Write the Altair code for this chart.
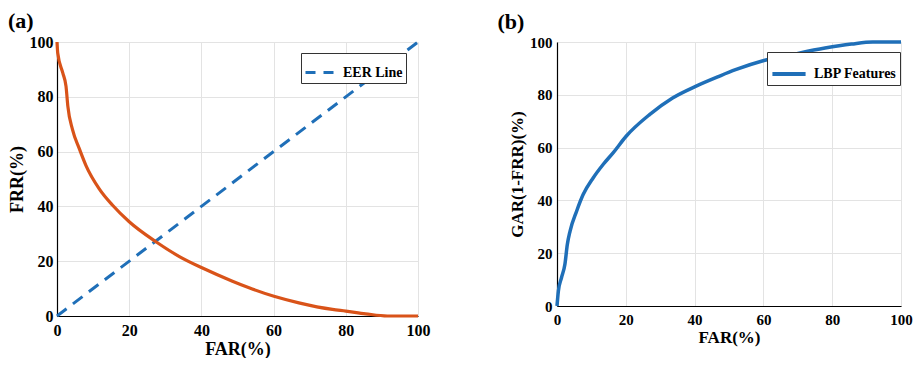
import altair as alt
import pandas as pd

# Panel (a): FRR vs FAR
far_a = [0, 0.2, 1.6, 2.5, 3.0, 4.3, 6.2, 8.0, 11.7, 15.4, 20.0, 27.4, 33.9, 40.3,
         48.6, 53.2, 60.1, 67.0, 76.3, 80.0, 85.5, 91.5, 100]
frr_a = [100, 96, 88.7, 83.8, 76.6, 68, 61, 55, 46.4, 40.4, 34.4, 27.1, 21.7, 17.5,
         12.7, 10.3, 7.2, 4.8, 2.4, 1.8, 0.8, 0, 0]
eer_x = [0, 100]
eer_y = [0, 100]

# Panel (b): GAR vs FAR
far_b = [0, 0.4, 1.3, 2.3, 3.0, 3.8, 5.7, 7.6, 10.5, 13.4, 16.3, 20.1, 26.9, 33.6,
         40.3, 47.1, 51.9, 59.9, 68.2, 77.9, 85.6, 91.8, 100]
gar_b = [0, 5.7, 10.7, 15.8, 23.3, 28.4, 35.9, 42.2, 48.5, 53.6, 58, 64.3, 72.5, 78.8,
         83.2, 87, 89.5, 92.9, 95.2, 97.7, 99.2, 100, 100]

ticks = [0, 20, 40, 60, 80, 100]
FONT = "Liberation Serif, Times New Roman, serif"
ORANGE = "#D95319"
BLUE = "#1F6FB8"

df_frr = pd.DataFrame({"far": far_a, "val": frr_a})
df_eer = pd.DataFrame({"far": eer_x, "val": eer_y, "series": ["EER Line"] * 2})
df_gar = pd.DataFrame({"far": far_b, "val": gar_b, "series": ["LBP Features"] * len(far_b)})


def xaxis(fs, tfs, lp, tp):
    return alt.X("far:Q", scale=alt.Scale(domain=[0, 100], nice=False),
                 axis=alt.Axis(values=ticks, title="FAR(%)", labelFontSize=fs,
                               titleFontSize=tfs, labelPadding=lp, titlePadding=tp,
                               labelFont=FONT, titleFont=FONT,
                               labelFlush=False))


def yaxis(title, fs, tfs, lp, tp):
    return alt.Y("val:Q", scale=alt.Scale(domain=[0, 100], nice=False),
                 axis=alt.Axis(values=ticks, title=title, labelFontSize=fs,
                               titleFontSize=tfs, labelPadding=lp, titlePadding=tp,
                               labelFont=FONT, titleFont=FONT,
                               labelFlush=False))


frr_line = alt.Chart(df_frr).mark_line(color=ORANGE, strokeWidth=3.2, interpolate="monotone").encode(
    x=xaxis(16, 18, 6, 2),
    y=yaxis("FRR(%)", 16, 18, 4, 3),
)

eer_line = alt.Chart(df_eer).mark_line(strokeWidth=3, strokeDash=[12, 8]).encode(
    x="far:Q",
    y="val:Q",
    color=alt.Color("series:N", scale=alt.Scale(domain=["EER Line"], range=[BLUE]),
                    legend=alt.Legend(title=None, orient="none", legendX=244, legendY=11,
                                      symbolType="stroke", symbolDash=[10, 8],
                                      symbolStrokeWidth=3, symbolSize=900,
                                      labelFontSize=14, labelFont=FONT, labelFontWeight="bold",
                                      labelColor="black",
                                      strokeColor="#333333", fillColor="white",
                                      padding=3, labelOffset=6)),
)

chart_a = alt.layer(eer_line, frr_line).properties(
    width=361, height=274,
    title=alt.TitleParams("(a)", anchor="start", frame="bounds", fontSize=22,
                          font=FONT, fontWeight="bold", offset=1, dx=0),
)

gar_line = alt.Chart(df_gar).mark_line(strokeWidth=3.5, interpolate="monotone").encode(
    x=xaxis(15, 17, 6, 2),
    y=yaxis("GAR(1-FRR)(%)", 15, 17, 5, 3),
    color=alt.Color("series:N", scale=alt.Scale(domain=["LBP Features"], range=[BLUE]),
                    legend=alt.Legend(title=None, orient="none", legendX=210, legendY=10,
                                      symbolType="stroke", symbolStrokeWidth=4,
                                      symbolSize=1100,
                                      labelFontSize=14, labelFont=FONT, labelFontWeight="bold",
                                      labelColor="black",
                                      strokeColor="#333333", fillColor="white",
                                      padding=3, labelOffset=6)),
)

chart_b = gar_line.properties(
    width=344, height=264,
    title=alt.TitleParams("(b)", anchor="start", frame="bounds", fontSize=22,
                          font=FONT, fontWeight="bold", offset=1, dx=-11),
)

chart = alt.hconcat(chart_a, chart_b, spacing=67).resolve_scale(
    color="independent"
).resolve_legend(
    color="independent"
).properties(padding={"left": 0, "top": 2, "right": 0, "bottom": 0}).configure_view(
    stroke=None
).configure_axis(
    labelFont=FONT, titleFont=FONT, labelFontWeight="bold", titleFontWeight="bold",
    labelColor="black", titleColor="black",
    domainColor="black", domainWidth=1.2, ticks=False,
    gridColor="#E3E3E3", gridWidth=1,
).configure_title(color="black")

chart.save("out.html", embed_options={"renderer": "svg", "actions": False})
